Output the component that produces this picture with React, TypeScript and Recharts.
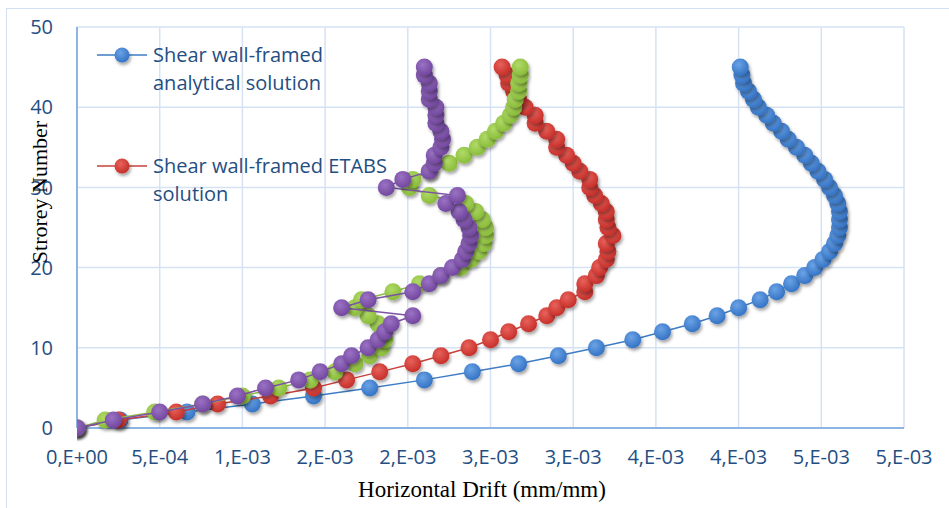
import React from "react"
import { ScatterChart, Scatter, XAxis, YAxis, CartesianGrid, Legend } from "recharts"

// storey numbers (y axis)
const storeys = [
  0, 1, 2, 3, 4, 5, 6, 7, 8, 9, 10, 11, 12, 13, 14, 15, 16, 17, 18, 19, 20, 21, 22,
  23, 24, 25, 26, 27, 28, 29, 30, 31, 32, 33, 34, 35, 36, 37, 38, 39, 40, 41, 42, 43, 44, 45,
]

// horizontal drift, in units of 1E-03 mm/mm
const analyticalDrift = [
  0, 0.26, 0.665, 1.06, 1.43, 1.77, 2.1, 2.39, 2.67, 2.91, 3.14, 3.36, 3.54, 3.72, 3.87, 4.0,
  4.13, 4.23, 4.32, 4.4, 4.46, 4.51, 4.55, 4.58, 4.6, 4.61, 4.61, 4.61, 4.6, 4.58, 4.55, 4.52,
  4.48, 4.44, 4.4, 4.35, 4.3, 4.26, 4.21, 4.17, 4.12, 4.09, 4.06, 4.03, 4.02, 4.01,
]
const etabsDrift = [
  0, 0.25, 0.6, 0.85, 1.17, 1.43, 1.63, 1.83, 2.03, 2.2, 2.37, 2.5, 2.61, 2.73, 2.84, 2.9,
  2.97, 3.07, 3.07, 3.14, 3.16, 3.2, 3.21, 3.2, 3.24, 3.21, 3.2, 3.2, 3.17, 3.13, 3.1, 3.1,
  3.04, 3.0, 2.96, 2.9, 2.9, 2.84, 2.77, 2.77, 2.71, 2.67, 2.64, 2.61, 2.6, 2.57,
]
const greenDrift = [
  0, 0.17, 0.47, 0.76, 1.0, 1.22, 1.41, 1.56, 1.68, 1.77, 1.84, 1.86, 1.85, 1.82, 1.76, 1.68,
  1.72, 1.91, 2.07, 2.2, 2.32, 2.38, 2.43, 2.46, 2.47, 2.47, 2.45, 2.41, 2.35, 2.13, 2.01, 2.03,
  2.13, 2.25, 2.34, 2.42, 2.48, 2.53, 2.58, 2.62, 2.64, 2.65, 2.67, 2.67, 2.68, 2.68,
]
const purpleDrift = [
  0, 0.22, 0.5, 0.76, 0.97, 1.14, 1.34, 1.47, 1.6, 1.66, 1.76, 1.82, 1.86, 1.9, 2.03, 1.6,
  1.76, 2.03, 2.13, 2.2, 2.27, 2.33, 2.35, 2.37, 2.38, 2.37, 2.34, 2.31, 2.23, 2.3, 1.87, 1.97,
  2.13, 2.16, 2.16, 2.2, 2.21, 2.2, 2.17, 2.17, 2.17, 2.13, 2.13, 2.13, 2.1, 2.1,
]

const xTicks = [0, 0.0005, 0.001, 0.0015, 0.002, 0.0025, 0.003, 0.0035, 0.004, 0.0045, 0.005]
const xTickLabels = [
  "0,E+00", "5,E-04", "1,E-03", "2,E-03", "2,E-03", "3,E-03",
  "3,E-03", "4,E-03", "4,E-03", "5,E-03", "5,E-03",
]
const yTicks = [0, 10, 20, 30, 40, 50]

const TEXT = "#244E82"
const GRID = "#D5E2F4"
const AXIS = "#8DB4E2"

const series = [
  { id: "blue", name: "Shear wall-framed analytical solution", drift: analyticalDrift, line: "#3E7CC4", base: "#3573C4", light: "#6AA3E6", legend: true },
  { id: "red", name: "Shear wall-framed ETABS solution", drift: etabsDrift, line: "#C9413B", base: "#C62F2A", light: "#E8625B", legend: true },
  { id: "green", name: "Series 3", drift: greenDrift, line: "#8FBF47", base: "#8ABC3B", light: "#B0DA67", legend: false },
  { id: "purple", name: "Series 4", drift: purpleDrift, line: "#7D52A5", base: "#72479E", light: "#9A72C4", legend: false },
]

const toPoints = (drift: number[]) => storeys.map((s, i) => ({ x: drift[i] / 1000, y: s }))

const makeDot = (id: string, r: number) => (props: any) => {
  const { cx, cy } = props
  if (cx == null || cy == null) return <g />
  return <circle cx={cx} cy={cy} r={r} fill={`url(#grad-${id})`} filter="url(#dropShadow)" />
}

function LegendBox({ payload }: any) {
  // keep the legend in series order (blue first, then red)
  const items = series.filter((s) => s.legend && (payload || []).some((p: any) => p.value === s.name))
  return (
    <div style={{ fontFamily: "'Open Sans', sans-serif", fontSize: 20, color: TEXT, lineHeight: "28px" }}>
      {items.map((s, idx) => (
        <div key={s.id} style={{ display: "flex", alignItems: "flex-start", marginBottom: idx === 0 ? 55 : 0 }}>
          <svg width={56} height={28} style={{ flexShrink: 0 }}>
            <line x1={0} y1={14} x2={50} y2={14} stroke={s.line} strokeWidth={1.5} />
            <circle cx={25} cy={14} r={7.5} fill={`url(#grad-${s.id})`} filter="url(#dropShadow)" />
          </svg>
          <div style={{ width: 250 }}>{s.name}</div>
        </div>
      ))}
    </div>
  )
}

export default function App() {
  return (
    <div style={{ position: "absolute", left: 0, top: 0, width: 949, height: 508, overflow: "hidden", background: "#fff" }}>
      <svg width={0} height={0} style={{ position: "absolute" }}>
        <defs>
          {series.map((s) => (
            <radialGradient key={s.id} id={`grad-${s.id}`} cx="40%" cy="35%" r="65%">
              <stop offset="0%" stopColor={s.light} />
              <stop offset="100%" stopColor={s.base} />
            </radialGradient>
          ))}
          <filter id="dropShadow" x="-60%" y="-60%" width="220%" height="220%">
            <feDropShadow dx={1.5} dy={2.5} stdDeviation={1.8} floodColor="#000" floodOpacity={0.35} />
          </filter>
        </defs>
      </svg>

      <div style={{ position: "absolute", left: 6, top: 8, width: 960, height: 520, borderTop: "1.5px solid #D3E0F2", borderLeft: "1.5px solid #D3E0F2" }} />

      <ScatterChart width={949} height={508} margin={{ top: 27, right: 45, bottom: 50, left: 0 }}>
        <CartesianGrid stroke={GRID} strokeWidth={1.5} />
        <XAxis
          type="number"
          dataKey="x"
          height={30}
          domain={[0, 0.005]}
          ticks={xTicks}
          tickFormatter={(v: number) => xTickLabels[xTicks.findIndex((t) => Math.abs(t - v) < 1e-9)]}
          interval={0}
          tickLine={false}
          tickSize={0}
          tickMargin={22}
          axisLine={{ stroke: AXIS, strokeWidth: 2 }}
          tick={{ fill: TEXT, fontSize: 20, fontFamily: "'Open Sans', sans-serif" }}
          allowDataOverflow
        />
        <YAxis
          type="number"
          dataKey="y"
          width={77}
          domain={[0, 50]}
          ticks={yTicks}
          interval={0}
          tickLine={false}
          tickSize={0}
          tickMargin={24}
          axisLine={{ stroke: AXIS, strokeWidth: 2 }}
          tick={{ fill: TEXT, fontSize: 20, fontFamily: "'Open Sans', sans-serif" }}
        />
        <Legend
          layout="horizontal"
          align="center"
          verticalAlign="middle"
          content={<LegendBox />}
          wrapperStyle={{ left: 97, top: 41, width: 340 }}
        />
        {series.map((s) => (
          <Scatter
            key={s.id}
            name={s.name}
            data={toPoints(s.drift)}
            fill={s.base}
            line={{ stroke: s.line, strokeWidth: 1.5 }}
            lineType="joint"
            legendType={s.legend ? "circle" : "none"}
            shape={makeDot(s.id, 8.5)}
            isAnimationActive={false}
          />
        ))}
      </ScatterChart>

      <div style={{ position: "absolute", left: 0, width: 964, top: 477, textAlign: "center", fontFamily: "'Liberation Serif', 'Times New Roman', serif", fontSize: 23, color: "#000" }}>
        Horizontal Drift (mm/mm)
      </div>
      <div
        style={{
          position: "absolute",
          left: 40,
          top: 192,
          transform: "translate(-50%, -50%) rotate(-90deg)",
          whiteSpace: "nowrap",
          fontFamily: "'Liberation Serif', 'Times New Roman', serif",
          fontSize: 22,
          color: "#000",
        }}
      >
        Strorey Number
      </div>
    </div>
  )
}
